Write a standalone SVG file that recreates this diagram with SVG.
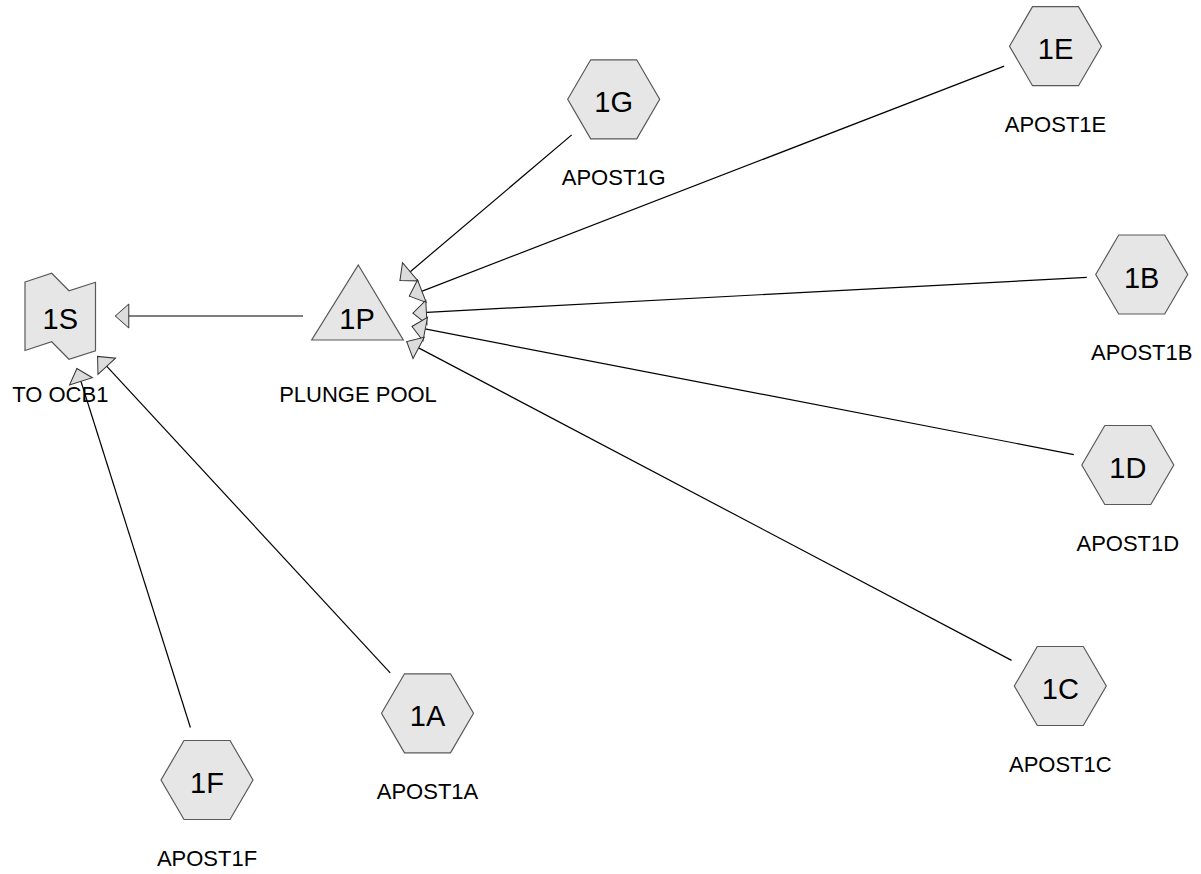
<svg xmlns="http://www.w3.org/2000/svg" width="1201" height="874" viewBox="0 0 1201 874">
  <style>
    .shape { fill: #e6e6e6; stroke: #595959; stroke-width: 1.2; }
    .num { font-family: "Liberation Sans", Arial, sans-serif; font-size: 29px; fill: #000; text-anchor: middle; }
    .lbl { font-family: "Liberation Sans", Arial, sans-serif; font-size: 22px; fill: #000; text-anchor: middle; }
    .edge { stroke: #000; stroke-width: 1.2; fill: none; marker-end: url(#arr); }
  </style>
  <defs>
    <marker id="arr" markerUnits="userSpaceOnUse" viewBox="0 0 16 28" markerWidth="16" markerHeight="28" refX="14.5" refY="14" orient="auto" overflow="visible">
      <path d="M14.5,14 L1,2 L1,26 Z" fill="#dcdcdc" stroke="#333" stroke-width="1"/>
    </marker>
    <polygon id="hex" points="-46,0 -23,-39.5 23,-39.5 46,0 23,39.5 -23,39.5"/>
  </defs>
  <rect width="1201" height="874" fill="#fff"/>

  <g id="connectors">
    <line class="edge" x1="303" y1="316" x2="115.3" y2="316"/>
    <line class="edge" x1="571.75" y1="134.86" x2="399.95" y2="280.44"/>
    <line class="edge" x1="1004.2" y1="66.1" x2="409.3" y2="296.1"/>
    <line class="edge" x1="1086.8" y1="277.4" x2="412.9" y2="313.1"/>
    <line class="edge" x1="1073.8" y1="454.55" x2="412.0" y2="326.45"/>
    <line class="edge" x1="1011.6" y1="660.4" x2="406.7" y2="341.6"/>
    <line class="edge" x1="390.2" y1="672.9" x2="97.6" y2="356.4"/>
    <line class="edge" x1="190.4" y1="727.55" x2="76.9" y2="368.45"/>
  </g>

  <g id="node-1S">
    <polygon class="shape" points="25,282 51.7,273.3 69,290.7 95.5,282.3 95.5,350.8 69,359.2 51.7,341.8 25,350.5"/>
    <text class="num" x="60.3" y="329">1S</text>
    <text class="lbl" x="60.3" y="401.5">TO OCB1</text>
  </g>

  <g id="node-1P">
    <polygon class="shape" points="358.3,265 403.3,340 311.7,340"/>
    <text class="num" x="357" y="329">1P</text>
    <text class="lbl" x="358" y="401.5">PLUNGE POOL</text>
  </g>

  <g id="node-1G" transform="translate(613.7,99.3)">
    <use href="#hex" class="shape"/>
    <text class="num" x="0" y="13">1G</text>
    <text class="lbl" x="0" y="85.5">APOST1G</text>
  </g>

  <g id="node-1E" transform="translate(1055.5,46.2)">
    <use href="#hex" class="shape"/>
    <text class="num" x="0" y="13">1E</text>
    <text class="lbl" x="0" y="85.5">APOST1E</text>
  </g>

  <g id="node-1B" transform="translate(1141.7,274.5)">
    <use href="#hex" class="shape"/>
    <text class="num" x="0" y="13">1B</text>
    <text class="lbl" x="0" y="85.5">APOST1B</text>
  </g>

  <g id="node-1D" transform="translate(1127.8,465)">
    <use href="#hex" class="shape"/>
    <text class="num" x="0" y="13">1D</text>
    <text class="lbl" x="0" y="85.5">APOST1D</text>
  </g>

  <g id="node-1C" transform="translate(1060.3,686)">
    <use href="#hex" class="shape"/>
    <text class="num" x="0" y="13">1C</text>
    <text class="lbl" x="0" y="85.5">APOST1C</text>
  </g>

  <g id="node-1A" transform="translate(427.5,713.3)">
    <use href="#hex" class="shape"/>
    <text class="num" x="0" y="13">1A</text>
    <text class="lbl" x="0" y="85.5">APOST1A</text>
  </g>

  <g id="node-1F" transform="translate(207,780)">
    <use href="#hex" class="shape"/>
    <text class="num" x="0" y="13">1F</text>
    <text class="lbl" x="0" y="85.5">APOST1F</text>
  </g>
</svg>
